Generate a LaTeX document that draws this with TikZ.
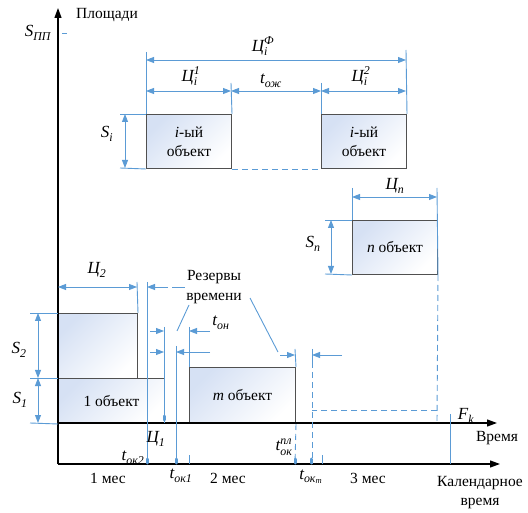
\documentclass[tikz,border=0pt]{standalone}
\usepackage{fontspec}
\setmainfont{Liberation Serif}
\usepackage{amsmath}
\usetikzlibrary{arrows.meta}
\definecolor{dimblue}{RGB}{91,155,213}
\definecolor{boxgray}{RGB}{80,80,80}
\definecolor{boxblue}{RGB}{214,225,244}
\newcommand\mlab[3]{$\text{\itshape #1}_{\text{\itshape #2}}^{\text{\itshape #3}}$}
\begin{document}
\begin{tikzpicture}[x=1pt,y=-1pt,
  dim/.style={draw=dimblue, line width=0.9pt},
  dimarr/.style={dim, {Triangle[length=8pt,width=6pt]}-{Triangle[length=8pt,width=6pt]}},
  dimone/.style={dim, -{Triangle[length=8pt,width=6pt]}},
  dashblue/.style={draw=dimblue, line width=0.9pt, dash pattern=on 6pt off 4pt},
  marker/.style={draw=dimblue, line width=3pt, line cap=round},
  axisline/.style={draw=black, line width=1.2pt, -{Triangle[length=10pt,width=7pt]}},
  objbox/.style={draw=boxgray, line width=1pt, top color=boxblue, bottom color=white, shading angle=45,
    inner sep=0pt, anchor=north west, align=center, font=\fontsize{15.5}{19}\selectfont},
  lbl/.style={inner sep=0pt, font=\fontsize{15.5}{17}\selectfont},
  mlbl/.style={inner sep=0pt, font=\fontsize{17}{19}\selectfont}]
\useasboundingbox (0,0) rectangle (528,513);

% objects
\node[objbox, minimum width=79pt, minimum height=65pt] (b2) at (58,313) {};
\node[objbox, minimum width=106pt, minimum height=45pt] (b1) at (58,378) {1 объект};
\node[objbox, minimum width=106pt, minimum height=56pt] (bm) at (189,367) {\textit{m} объект};
\node[objbox, minimum width=85pt, minimum height=54pt] (bi1) at (146,114) {\textit{i}-ый\\объект};
\node[objbox, minimum width=85pt, minimum height=54pt] (bi2) at (321,114) {\textit{i}-ый\\объект};
\node[objbox, minimum width=85pt, minimum height=54pt] (bn) at (352,220) {\textit{n} объект};

% axes
\coordinate (O) at (58,464);
\coordinate (T) at (58,423);
\draw[axisline] (O) -- (58,8);
\draw[axisline] (T) -- (497,423);
\draw[axisline] (O) -- (500,464);

% i-object dimensions
\draw[dim] (146,52) -- (bi1.north west);
\draw[dim] (406,50) -- (bi2.north east);
\draw[dim] (231,83) -- (bi1.north east);
\draw[dim] (321,83) -- (bi2.north west);
\draw[dimarr] (146,60) -- (406,60);
\draw[dimarr] (146,91) -- (231,91);
\draw[dimarr] (231,91) -- (321,91);
\draw[dimarr] (321,91) -- (406,91);
\draw[dim] (120,114) -- (bi1.north west);
\draw[dim] (120,168) -- (bi1.south west);
\draw[dimarr] (125,114) -- (125,168);
\draw[dashblue] (bi1.south east) -- (bi2.south west);

% n-object dimensions
\draw[dim] (352,188) -- (bn.north west);
\draw[dim] (437,188) -- (bn.south east);
\draw[dimarr] (352,197) -- (437,197);
\draw[dim] (325,220) -- (bn.north west);
\draw[dim] (325,274) -- (bn.south west);
\draw[dimarr] (331,220) -- (331,274);
\draw[dashblue] (bn.south east) -- (437,423);
\draw[dashblue] (437,410) -- (312,410);

% S1, S2
\draw[dim] (30,313) -- (b2.north west);
\draw[dim] (30,378) -- (b1.north west);
\draw[dim] (30,423) -- (b1.south west);
\draw[dimarr] (38,313) -- (38,378);
\draw[dimarr] (38,378) -- (38,423);

% C2 and reserves
\draw[dim] (137,282) -- (b2.north east);
\draw[dimarr] (58,287) -- (137,287);
\draw[dim] (147,282) -- (147,464);
\draw[dimone] (168,287) -- (147,287);
\draw[dim] (172,287) -- (185,287);
\draw[dim] (164,327) -- (164,423);
\draw[dim] (189,327) -- (bm.north west);
\draw[dimone] (150,331) -- (164,331);
\draw[dimone] (210,331) -- (189,331);
\draw[dim] (176,346) -- (176,464);
\draw[dimone] (150,352) -- (164,352);
\draw[dimone] (210,352) -- (176,352);
\draw[dim] (189,305) -- (177,331);
\draw[dim] (295,349) -- (bm.north east);
\draw[dimone] (280,355) -- (295,355);
\draw[dim] (312,349) -- (312,362);
\draw[dashblue] (312,362) -- (312,464);
\draw[dimone] (342,355) -- (312,355);
\draw[dim] (250,298) -- (278,352);
\draw[dashblue] (bm.south east) -- (295,464);
\draw[dim] (189,455) -- (189,464);
\draw[dim] (322,455) -- (322,464);
\draw[marker] (147,459) -- (147,463);
\draw[marker] (176,459) -- (176,463);
\draw[marker] (295,459) -- (295,463);
\draw[marker] (311,459) -- (311,463);
\draw[marker] (164,416) -- (164,420);
\draw[dim] (450,414) -- (450,464);
\draw[dim] (62,33) -- (67,33);

% labels
\node[lbl] (lpl) at (107,15) {Площади};
\node[mlbl] (lspp) at (38,33) {\mlab{S}{ПП}{}};
\node[mlbl] (lcif) at (263,46) {\mlab{Ц}{i}{Ф}};
\node[mlbl] (lci1) at (191,76) {\mlab{Ц}{i}{1}};
\node[mlbl] (ltoz) at (271,81) {\mlab{t}{ож}{}};
\node[mlbl] (lci2) at (361,76) {\mlab{Ц}{i}{2}};
\node[mlbl] (lsi) at (107,134) {\mlab{S}{i}{}};
\node[mlbl] (lcn) at (395,186) {\mlab{Ц}{n}{}};
\node[mlbl] (lsn) at (313,244) {\mlab{S}{n}{}};
\node[mlbl] (lc2) at (97,270) {\mlab{Ц}{2}{}};
\node[lbl] (lrez) at (214,277) {Резервы};
\node[lbl] (lvr) at (214,298) {времени};
\node[mlbl] (lton) at (221,323) {\mlab{t}{он}{}};
\node[mlbl] (ls2) at (19,350) {\mlab{S}{2}{}};
\node[mlbl] (ls1) at (20,400) {\mlab{S}{1}{}};
\node[mlbl] (lc1) at (156,439) {\mlab{Ц}{1}{}};
\node[mlbl] (lto2) at (133,458) {\mlab{t}{ок2}{}};
\node[mlbl] (lto1) at (181,476) {\mlab{t}{ок1}{}};
\node[mlbl] (ltopl) at (284,447) {\mlab{t}{ок}{пл}};
\node[mlbl] (ltom) at (311,477) {$\text{\itshape t}_{\text{\itshape ок}_{\text{\itshape m}}}$};
\node[mlbl] (lfk) at (466,416) {\mlab{F}{k}{}};
\node[lbl] (lm1) at (108,478) {1 мес};
\node[lbl] (lm2) at (228,478) {2 мес};
\node[lbl] (lm3) at (368,478) {3 мес};
\node[lbl] (lvrem) at (497,438) {Время};
\node[lbl] (lkal) at (480,483) {Календарное};
\node[lbl] (lkal2) at (480,503) {время};
\end{tikzpicture}
\end{document}
